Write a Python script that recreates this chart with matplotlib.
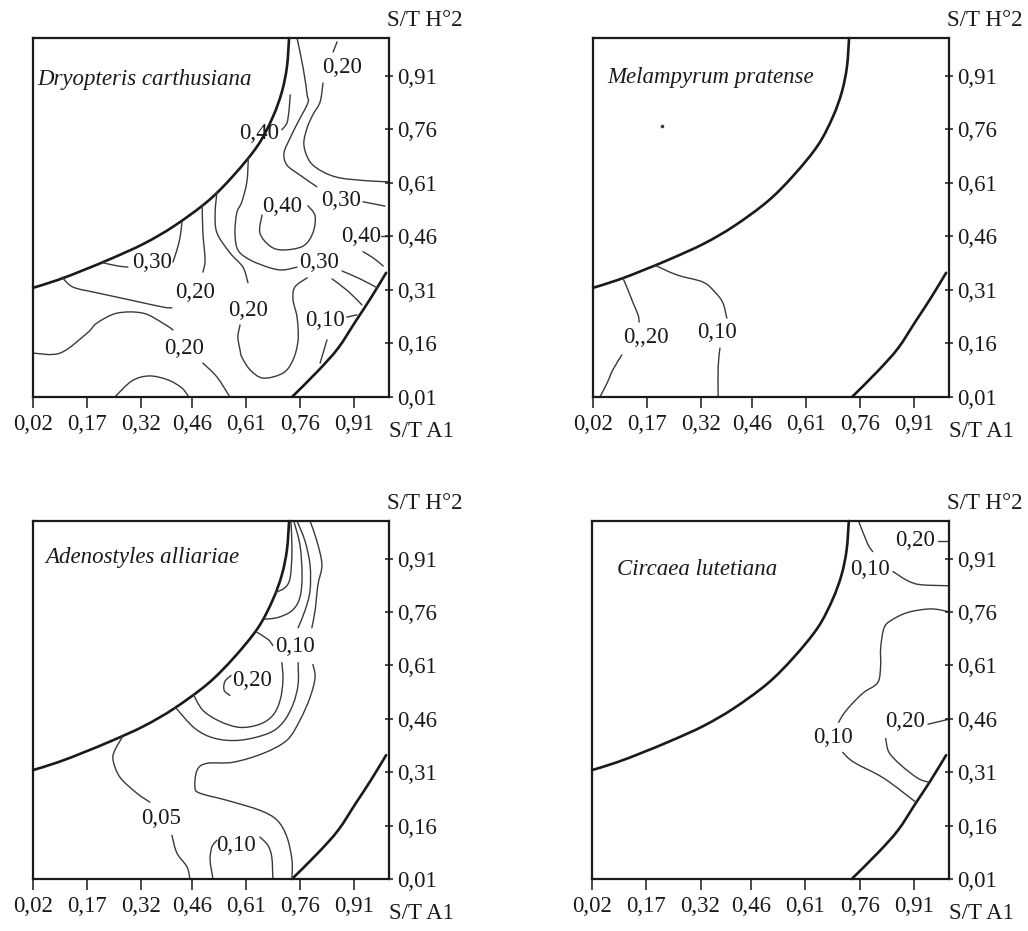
import matplotlib.pyplot as plt
from matplotlib.path import Path
from matplotlib.patches import PathPatch

plt.rcParams['font.family'] = ['Liberation Serif', 'DejaVu Serif']

# ---------------------------------------------------------
# axes ticks (shared by all four panels)
# ---------------------------------------------------------
x_ticks = [0.02, 0.17, 0.32, 0.46, 0.61, 0.76, 0.91]
x_tick_labels = ["0,02", "0,17", "0,32", "0,46", "0,61", "0,76", "0,91"]
y_ticks = [0.01, 0.16, 0.31, 0.46, 0.61, 0.76, 0.91]
y_tick_labels = ["0,01", "0,16", "0,31", "0,46", "0,61", "0,76", "0,91"]
x_name = "S/T A1"
y_name = "S/T H°2"

# ---------------------------------------------------------
# limits of the sampled domain (thick curves, same in every panel)
# ---------------------------------------------------------
bound_upper = [(0.020, 0.316), (0.089, 0.338), (0.161, 0.366), (0.242, 0.400),
               (0.328, 0.440), (0.411, 0.489), (0.505, 0.559), (0.577, 0.632),
               (0.644, 0.716), (0.685, 0.795), (0.710, 0.865), (0.724, 0.935),
               (0.730, 1.016)]
bound_lower = [(0.738, 0.010), (0.810, 0.083), (0.866, 0.147), (0.915, 0.223),
               (0.957, 0.288), (0.999, 0.358)]

# ---------------------------------------------------------
# Dryopteris carthusiana
# ---------------------------------------------------------
dry_30_top = [(0.752, 1.016), (0.769, 0.932), (0.780, 0.857), (0.782, 0.834), (0.755, 0.781),
              (0.733, 0.736), (0.716, 0.694), (0.724, 0.660), (0.760, 0.632), (0.807, 0.599)]
dry_30_top_b = [(0.935, 0.557), (0.996, 0.545)]
dry_20_top_a = [(0.863, 1.005), (0.852, 0.977)]
dry_20_top_b = [(0.824, 0.890), (0.816, 0.837), (0.796, 0.801), (0.780, 0.764), (0.771, 0.717),
                (0.788, 0.669), (0.824, 0.641), (0.871, 0.624), (0.946, 0.616), (1.007, 0.613)]
dry_40_edge = [(0.733, 0.857), (0.730, 0.815), (0.724, 0.778), (0.710, 0.759)]
dry_30_left = [(0.214, 0.386), (0.256, 0.377), (0.283, 0.374)]
dry_30_left_b = [(0.408, 0.388), (0.419, 0.422), (0.428, 0.459), (0.433, 0.501)]
dry_20_left = [(0.100, 0.346), (0.131, 0.318), (0.197, 0.302), (0.289, 0.282), (0.380, 0.262),
               (0.405, 0.260)]
dry_20_left_b = [(0.491, 0.360), (0.497, 0.394), (0.491, 0.470), (0.489, 0.548)]
dry_20_mid = [(0.530, 0.584), (0.525, 0.526), (0.530, 0.470), (0.566, 0.414), (0.602, 0.374),
              (0.616, 0.330)]
dry_20_mid_b = [(0.594, 0.212), (0.588, 0.178), (0.594, 0.142), (0.599, 0.122), (0.622, 0.086),
                (0.658, 0.063), (0.713, 0.077), (0.741, 0.114), (0.755, 0.170), (0.752, 0.234),
                (0.741, 0.282), (0.746, 0.318), (0.780, 0.344)]
dry_40_loop = [(0.655, 0.520), (0.649, 0.470), (0.677, 0.433), (0.713, 0.422), (0.769, 0.433),
               (0.796, 0.470), (0.802, 0.518), (0.782, 0.546)]
dry_30_low = [(0.617, 0.680), (0.613, 0.613), (0.599, 0.557), (0.585, 0.526), (0.580, 0.470),
              (0.588, 0.422), (0.622, 0.394), (0.677, 0.372), (0.713, 0.366), (0.752, 0.374)]
dry_30_low_b = [(0.877, 0.363), (0.927, 0.341), (0.974, 0.316)]
dry_seg_b = [(0.849, 0.341), (0.893, 0.307), (0.932, 0.268)]
dry_seg_c = [(0.935, 0.417), (0.963, 0.400), (0.991, 0.377)]
dry_40_dash = [(0.985, 0.461), (1.007, 0.461)]
dry_10_dash = [(0.890, 0.234), (0.918, 0.240)]
dry_10_low = [(0.835, 0.170), (0.816, 0.105)]
dry_20_bl = [(0.020, 0.133), (0.095, 0.133), (0.170, 0.189), (0.197, 0.217), (0.253, 0.245),
             (0.325, 0.245), (0.380, 0.217), (0.408, 0.198)]
dry_20_bl_b = [(0.491, 0.105), (0.530, 0.066), (0.566, 0.010)]
dry_20_arc = [(0.247, 0.010), (0.294, 0.055), (0.342, 0.069), (0.394, 0.058), (0.433, 0.035),
              (0.452, 0.010)]
dry_labels = [("0,20", 0.877, 0.932), ("0,40", 0.647, 0.747), ("0,30", 0.874, 0.562),
              ("0,40", 0.710, 0.543), ("0,40", 0.930, 0.461), ("0,30", 0.350, 0.386),
              ("0,30", 0.813, 0.386), ("0,20", 0.469, 0.304), ("0,20", 0.616, 0.251),
              ("0,10", 0.829, 0.223), ("0,20", 0.439, 0.147)]

# ---------------------------------------------------------
# Melampyrum pratense
# ---------------------------------------------------------
mel_20 = [(0.103, 0.343), (0.117, 0.310), (0.131, 0.274), (0.145, 0.240), (0.148, 0.220)]
mel_20_b = [(0.100, 0.128), (0.075, 0.086), (0.059, 0.049), (0.039, 0.010)]
mel_10 = [(0.192, 0.379), (0.253, 0.352), (0.325, 0.332), (0.358, 0.304), (0.380, 0.274),
          (0.391, 0.231)]
mel_10_b = [(0.372, 0.147), (0.367, 0.094), (0.367, 0.010)]
mel_dot = [(0.211, 0.770)]
mel_labels = [("0,,20", 0.167, 0.178), ("0,10", 0.364, 0.192)]

# ---------------------------------------------------------
# Adenostyles alliariae
# ---------------------------------------------------------
ade_in = [(0.735, 1.016), (0.738, 0.932), (0.733, 0.857), (0.719, 0.829), (0.692, 0.815)]
ade_2 = [(0.743, 1.016), (0.760, 0.949), (0.766, 0.865), (0.760, 0.801), (0.738, 0.764),
         (0.699, 0.745), (0.660, 0.740)]
ade_3 = [(0.752, 1.016), (0.774, 0.960), (0.788, 0.893), (0.788, 0.820), (0.774, 0.764),
         (0.755, 0.716)]
ade_3_b = [(0.755, 0.618), (0.755, 0.557), (0.741, 0.501), (0.713, 0.450), (0.672, 0.419),
           (0.594, 0.400), (0.525, 0.405), (0.469, 0.433), (0.415, 0.492)]
ade_4 = [(0.788, 1.016), (0.807, 0.960), (0.821, 0.893), (0.810, 0.837), (0.802, 0.764),
         (0.793, 0.716)]
ade_4_b = [(0.796, 0.613), (0.802, 0.576), (0.788, 0.520), (0.760, 0.456), (0.724, 0.400),
           (0.658, 0.363), (0.574, 0.338), (0.502, 0.335), (0.475, 0.316), (0.469, 0.268),
           (0.483, 0.251), (0.558, 0.231), (0.649, 0.203), (0.697, 0.175), (0.724, 0.128),
           (0.738, 0.063), (0.738, 0.010)]
ade_1 = [(0.638, 0.705), (0.672, 0.683), (0.685, 0.666)]
ade_1_b = [(0.710, 0.618), (0.713, 0.568), (0.705, 0.512), (0.685, 0.470), (0.649, 0.445),
           (0.594, 0.436), (0.538, 0.453), (0.491, 0.484), (0.465, 0.528)]
ade_hook = [(0.569, 0.582), (0.552, 0.565), (0.550, 0.540), (0.566, 0.526)]
ade_05 = [(0.269, 0.411), (0.247, 0.372), (0.242, 0.344), (0.261, 0.296), (0.308, 0.251),
          (0.344, 0.226)]
ade_05_b = [(0.405, 0.133), (0.419, 0.083), (0.447, 0.044), (0.455, 0.010)]
ade_10_low_l = [(0.519, 0.010), (0.511, 0.063), (0.516, 0.100), (0.530, 0.119)]
ade_10_low_r = [(0.649, 0.128), (0.671, 0.105), (0.682, 0.072), (0.685, 0.010)]
ade_labels = [("0,10", 0.747, 0.663), ("0,20", 0.627, 0.568), ("0,05", 0.375, 0.181),
              ("0,10", 0.583, 0.105)]

# ---------------------------------------------------------
# Circaea lutetiana
# ---------------------------------------------------------
cir_10_top = [(0.757, 1.016), (0.782, 0.952), (0.796, 0.930)]
cir_10_top_b = [(0.852, 0.874), (0.893, 0.848), (0.929, 0.837), (1.007, 0.834)]
cir_20_dash = [(0.976, 0.961), (1.007, 0.961)]
cir_10 = [(1.007, 0.761), (0.957, 0.769), (0.893, 0.759), (0.846, 0.736), (0.827, 0.714),
          (0.818, 0.658), (0.818, 0.610), (0.810, 0.562), (0.771, 0.534), (0.735, 0.498),
          (0.713, 0.470), (0.702, 0.450)]
cir_10_b = [(0.713, 0.366), (0.744, 0.338), (0.827, 0.293), (0.915, 0.226)]
cir_20 = [(0.832, 0.405), (0.841, 0.366), (0.874, 0.330), (0.921, 0.293), (0.951, 0.282)]
cir_20_dash2 = [(0.949, 0.445), (1.007, 0.459)]
cir_labels = [("0,10", 0.788, 0.879), ("0,20", 0.913, 0.960), ("0,10", 0.685, 0.408),
              ("0,20", 0.885, 0.453)]

species = ["Dryopteris carthusiana", "Melampyrum pratense",
           "Adenostyles alliariae", "Circaea lutetiana"]

panels = [
    {"name": species[0], "title_xy": (0.031, 0.899),
     "lines": [dry_30_top, dry_30_top_b, dry_20_top_a, dry_20_top_b, dry_40_edge,
               dry_30_left, dry_30_left_b, dry_20_left, dry_20_left_b, dry_20_mid,
               dry_20_mid_b, dry_40_loop, dry_30_low, dry_30_low_b, dry_seg_b, dry_seg_c,
               dry_40_dash, dry_10_dash, dry_10_low, dry_20_bl, dry_20_bl_b, dry_20_arc],
     "labels": dry_labels, "dots": []},
    {"name": species[1], "title_xy": (0.059, 0.904),
     "lines": [mel_20, mel_20_b, mel_10, mel_10_b],
     "labels": mel_labels, "dots": mel_dot},
    {"name": species[2], "title_xy": (0.053, 0.913),
     "lines": [ade_in, ade_2, ade_3, ade_3_b, ade_4, ade_4_b, ade_1, ade_1_b, ade_hook,
               ade_05, ade_05_b, ade_10_low_l, ade_10_low_r],
     "labels": ade_labels, "dots": []},
    {"name": species[3], "title_xy": (0.089, 0.879),
     "lines": [cir_10_top, cir_10_top_b, cir_20_dash, cir_10, cir_10_b, cir_20, cir_20_dash2],
     "labels": cir_labels, "dots": []},
]


def smooth_path(pts):
    # Catmull-Rom through the read points, drawn as cubic Bezier segments
    if len(pts) < 3:
        return Path(pts)
    verts = [pts[0]]
    codes = [Path.MOVETO]
    n = len(pts)
    for i in range(n - 1):
        p0 = pts[i - 1] if i > 0 else pts[i]
        p1 = pts[i]
        p2 = pts[i + 1]
        p3 = pts[i + 2] if i + 2 < n else pts[i + 1]
        c1 = (p1[0] + (p2[0] - p0[0]) / 6, p1[1] + (p2[1] - p0[1]) / 6)
        c2 = (p2[0] - (p3[0] - p1[0]) / 6, p2[1] - (p3[1] - p1[1]) / 6)
        verts += [c1, c2, p2]
        codes += [Path.CURVE4] * 3
    return Path(verts, codes)


def draw_curve(ax, pts, color, lw):
    patch = PathPatch(smooth_path(pts), facecolor="none", edgecolor=color, lw=lw,
                      capstyle="round", joinstyle="round", clip_on=False)
    ax.add_patch(patch)


# axes rectangles in figure fraction (left, bottom, width, height)
W, H = 1028, 931
boxes = [
    (33 / W, 1 - 397 / H, 356 / W, 359 / H),
    (593 / W, 1 - 397 / H, 356 / W, 359 / H),
    (33 / W, 1 - 879 / H, 356 / W, 358 / H),
    (592 / W, 1 - 879 / H, 357 / W, 358 / H),
]

ink = "#1a1a1a"
thin = "#3a3a3a"
fs = 16.5

fig = plt.figure(figsize=(W / 100, H / 100), dpi=100)

for box, p in zip(boxes, panels):
    ax = fig.add_axes(box)
    ax.set_xlim(0.02, 1.007)
    ax.set_ylim(0.01, 1.016)

    for pts in (bound_upper, bound_lower):
        draw_curve(ax, pts, ink, 1.9)

    for pts in p["lines"]:
        draw_curve(ax, pts, thin, 1.0)

    for (dx, dy) in p["dots"]:
        ax.plot(dx, dy, "o", ms=1.6, color=thin)

    for txt, lx, ly in p["labels"]:
        ax.text(lx, ly, txt, fontsize=fs, color=ink, ha="center", va="center")

    tx, ty = p["title_xy"]
    ax.text(tx, ty, p["name"], fontsize=fs, style="italic", color=ink,
            ha="left", va="center")

    ax.set_xticks(x_ticks)
    ax.set_xticklabels(x_tick_labels)
    ax.set_yticks(y_ticks)
    ax.set_yticklabels(y_tick_labels)
    ax.yaxis.tick_right()
    ax.tick_params(axis="x", direction="out", length=8, width=1.1, pad=4,
                   labelsize=fs, colors=ink)
    ax.tick_params(axis="y", direction="inout", length=6, width=1.1, pad=3,
                   labelsize=fs, colors=ink)
    for s in ax.spines.values():
        s.set_linewidth(1.6)
        s.set_color(ink)

    ax.text(0.995, 1.05, y_name, transform=ax.transAxes, fontsize=fs, color=ink,
            ha="left", va="center")
    ax.text(1.0, -0.095, x_name, transform=ax.transAxes, fontsize=fs, color=ink,
            ha="left", va="center")

fig.savefig("out.png", dpi=100)
